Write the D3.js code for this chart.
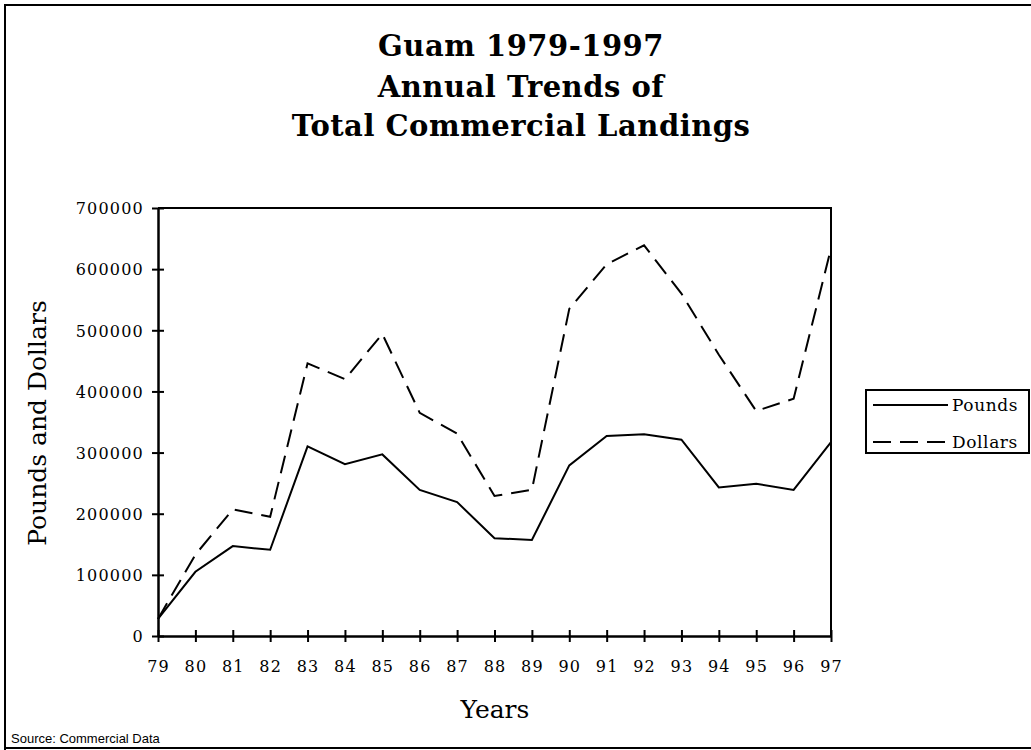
<!DOCTYPE html>
<html><head><meta charset="utf-8">
<script src="https://cdn.jsdelivr.net/npm/d3@7"></script>
<style>body{margin:0;background:#fff}svg{display:block}</style>
</head><body>
<script>
const years = ["79","80","81","82","83","84","85","86","87","88","89","90","91","92","93","94","95","96","97"];
const pounds = [28000,105000,147000,141000,310000,281000,297000,239000,219000,160000,157000,279000,327000,330000,321000,243000,249000,239000,317000];
const dollars = [28000,133000,207000,195000,446000,420000,494000,365000,331000,229000,239000,535000,608000,639000,560000,460000,368000,388000,634000];
const yTicks = [0,100000,200000,300000,400000,500000,600000,700000];
const titleLines = ["Guam 1979-1997","Annual Trends of","Total Commercial Landings"];
const seriesNames = ["Pounds","Dollars"];

const W=1031,H=750;
const svg=d3.select("body").append("svg").attr("width",W).attr("height",H);
const serif="'DejaVu Serif', serif";
const L=158,R=831,T=208,B=636;
const x=d3.scalePoint().domain(years).range([L,R]);
const y=d3.scaleLinear().domain([0,700000]).range([B,T]);

// outer frame
svg.append("path").attr("d",`M5,${H+5} V5 H${W+5} M5,748 H${W+5}`).attr("fill","none").attr("stroke","#000").attr("stroke-width",2);

// title
titleLines.forEach((t,i)=>{
  svg.append("text").attr("x",521).attr("y",[56,97,136][i]).attr("text-anchor","middle")
    .attr("font-family",serif).attr("font-weight","bold").attr("font-size",29).attr("letter-spacing",0.5).text(t);
});

// plot frame top/right
svg.append("path").attr("d",`M${L},${T} H${R} V${B}`).attr("fill","none").attr("stroke","#000").attr("stroke-width",2);

// y axis
const ya=svg.append("g").attr("transform",`translate(${L},0)`)
  .call(d3.axisLeft(y).tickValues(yTicks).tickFormat(d3.format("d")).tickSizeInner(6).tickSizeOuter(0).tickPadding(8));
ya.selectAll(".tick line").attr("x2",6).attr("x1",-6).attr("stroke-width",2);
ya.select(".domain").attr("stroke-width",2.5);
ya.selectAll("text").attr("font-family",serif).attr("font-size",16).attr("letter-spacing",1.2).attr("fill","#000").attr("dy","0.36em");

// x axis
const xa=svg.append("g").attr("transform",`translate(0,${B})`)
  .call(d3.axisBottom(x).tickSizeInner(6).tickSizeOuter(0).tickPadding(20));
xa.selectAll(".tick line").attr("y1",-6).attr("y2",6).attr("stroke-width",2);
xa.select(".domain").attr("stroke-width",2.5);
xa.selectAll("text").attr("font-family",serif).attr("font-size",16).attr("letter-spacing",1.2).attr("fill","#000").attr("dy","0.6em");

// axis titles
svg.append("text").attr("x",495).attr("y",718).attr("text-anchor","middle").attr("font-family",serif).attr("font-size",25).text("Years");
svg.append("text").attr("transform","translate(46,423) rotate(-90)").attr("text-anchor","middle").attr("font-family",serif).attr("font-size",25).text("Pounds and Dollars");

// lines
const line=d3.line().x((d,i)=>x(years[i])).y(d=>y(d));
svg.append("path").datum(pounds).attr("d",line).attr("fill","none").attr("stroke","#000").attr("stroke-width",2);
svg.append("path").datum(dollars).attr("d",line).attr("fill","none").attr("stroke","#000").attr("stroke-width",2).attr("stroke-dasharray","18,9");

// legend
svg.append("rect").attr("x",866).attr("y",390).attr("width",163).attr("height",63).attr("fill","#fff").attr("stroke","#000").attr("stroke-width",2);
[405,442].forEach((ly,i)=>{
  svg.append("line").attr("x1",873).attr("x2",948).attr("y1",ly).attr("y2",ly).attr("stroke","#000").attr("stroke-width",2)
    .attr("stroke-dasharray",i===1?"18,9":null);
  svg.append("text").attr("x",952).attr("y",ly+6).attr("font-family",serif).attr("font-size",17).attr("letter-spacing",0.6).text(seriesNames[i]);
});

// source
svg.append("text").attr("x",11).attr("y",743).attr("font-family","'Liberation Sans', Arial, sans-serif").attr("font-size",13).text("Source: Commercial Data");
</script>
</body></html>
